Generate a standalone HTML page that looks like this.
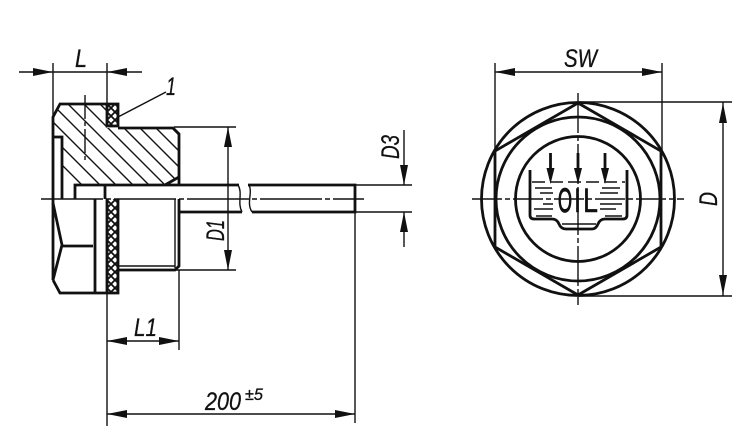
<!DOCTYPE html>
<html>
<head>
<meta charset="utf-8">
<style>
html,body{margin:0;padding:0;background:#fff;width:750px;height:439px;overflow:hidden}
svg{display:block}
text{font-family:"Liberation Sans",sans-serif;font-style:italic;fill:#111;stroke:#111;stroke-width:.3}
</style>
</head>
<body>
<svg width="750" height="439" viewBox="0 0 750 439" xmlns="http://www.w3.org/2000/svg">
<defs>
<clipPath id="hc"><polygon points="53,117 60,104 107,104 107,128 173,128 179,134 179,177 165,185 75,185 75,199 62,199 62,137 53,137"/></clipPath>
<pattern id="xh" width="8" height="8" patternUnits="userSpaceOnUse" x="107" y="104">
<path d="M-1,-1 L9,9 M-1,9 L9,-1" stroke="#111" stroke-width="1.8" fill="none"/>
</pattern>
</defs>

<!-- hatch -->
<g clip-path="url(#hc)" stroke="#111" stroke-width="1.4">
<path d="M33,136 L133,236 M33,118 L133,218 M33,102 L133,202 M33,85 L143,195 M33,69 L153,189 M33,53 L173,193 M33,37 L183,187 M33,21 L193,181 M33,5 L203,175 M33,-11 L213,169 M33,-27 L223,163"/>
</g>
<rect x="107" y="104" width="11" height="22" fill="url(#xh)"/>
<rect x="107" y="199" width="11" height="94" fill="url(#xh)"/>

<!-- left view thick outlines -->
<g fill="none" stroke="#111" stroke-width="2.8">
<path d="M53,280 L53,117 L60,104 L118,104 L118,126 L107,126 L107,104"/>
<path d="M118,128 L173,128 L179,134 L179,185"/>
<path d="M179,177 L165,185"/>
<path d="M53,137 L62,137 L62,199"/>
<path d="M75,199 L75,185 L239,185"/>
<path d="M248,185 L355,185 L355,212 L252,212"/>
<path d="M179,212 L242,212"/>
<path d="M105,185 L105,199"/>
<path d="M53,280 L60,293 L118,293 L118,199 M107,199 L107,293"/>
<path d="M53,203 L62,245 L53,280"/>
<path d="M62,246 L93,246"/>
<path d="M95,199 L95,293"/>
<path d="M118,270 L175,270 L179,266 L179,212"/>
<path d="M179,199 L179,212"/>
</g>
<g fill="none" stroke="#111" stroke-width="1.4">
<path d="M238,185 C243,193 237,203 242,212"/>
<path d="M249,185 C253,193 246,203 252,212"/>
<path d="M118,266 L175,266 M175,199 L175,268"/>
</g>

<!-- left view thin lines -->
<g fill="none" stroke="#111" stroke-width="1.4">
<path d="M19,72 L142,72"/>
<path d="M53,63 L53,117"/>
<path d="M107,63 L107,104"/>
<path d="M118,117 L166,92"/>
<path d="M174,127 L236,127 M175,270 L236,270"/>
<path d="M228,127 L228,270"/>
<path d="M355,212 L355,423"/>
<path d="M355,185 L412,185 M355,212 L412,212"/>
<path d="M404,130 L404,185 M404,212 L404,247"/>
<path d="M107,293 L107,426"/>
<path d="M179,270 L179,350"/>
<path d="M107,341 L179,341"/>
<path d="M107,414 L355,414"/>
<path d="M41,199 L364,199" stroke-dasharray="62 3 5 3"/>
<path d="M85,95 L85,162" stroke-dasharray="24 3 4 3"/>
</g>

<!-- right view -->
<g fill="none" stroke="#111" stroke-width="2.8">
<circle cx="578" cy="199" r="96.5"/>
<circle cx="578" cy="199" r="82"/>
<circle cx="578" cy="199" r="62.5"/>
<polygon points="578,103 661,151 661,247 578,295 495,247 495,151"/>
<path d="M530,170 L530,215 Q530,219 534,219 L552,219 Q557,219 559,224 Q561,229 566,229 L592,229 Q596,229 598,224 Q600,219 605,219 L623,219 Q627,219 627,215 L627,170"/>
<path d="M550.5,153 L550.5,172 M578,153 L578,172 M605,153 L605,172"/>
</g>
<g fill="none" stroke="#111" stroke-width="1.4">
<path d="M472,199 L684,199" stroke-dasharray="30 3 5 3"/>
<path d="M578,93 L578,305" stroke-dasharray="40 3 5 3"/>
<path d="M495,63 L495,151 M662,63 L662,151"/>
<path d="M495,72 L662,72"/>
<path d="M578,102 L732,102 M578,296 L732,296"/>
<path d="M723,102 L723,296"/>
<path d="M532,182 L625,182" stroke-dasharray="13 5"/>
<path d="M535,188 L552,188 M602,188 L620,188 M540,193 L553,193 M600,193 L618,193 M543,204 L553,204 M600,204 L622,204 M534,209 L553,209 M600,209 L616,209 M536,216 L552,216 M605,216 L622,216 M562,224 L596,224"/>
</g>

<!-- arrowheads -->
<g fill="#111" stroke="none">
<polygon points="33,68 53,72 33,76"/>
<polygon points="127,68 107,72 127,76"/>
<polygon points="515,68 495,72 515,76"/>
<polygon points="642,68 662,72 642,76"/>
<polygon points="719,123 723,103 727,123"/>
<polygon points="719,275 723,295 727,275"/>
<polygon points="224,147 228,127 232,147"/>
<polygon points="224,250 228,270 232,250"/>
<polygon points="400,165 404,185 408,165"/>
<polygon points="400,232 404,212 408,232"/>
<polygon points="127,337 107,341 127,345"/>
<polygon points="159,337 179,341 159,345"/>
<polygon points="127,410 107,414 127,418"/>
<polygon points="335,410 355,414 335,418"/>
<polygon points="546.5,168 550.5,184 554.5,168"/>
<polygon points="574,168 578,184 582,168"/>
<polygon points="601,168 605,184 609,168"/>
</g>

<!-- OIL -->
<g style="font-style:normal">
<text x="558" y="212" font-size="34" textLength="14" lengthAdjust="spacingAndGlyphs" style="font-style:normal;stroke-width:1.2">O</text>
<text x="574" y="212" font-size="34" textLength="7" lengthAdjust="spacingAndGlyphs" style="font-style:normal;stroke-width:.4">I</text>
<text x="583" y="212" font-size="34" textLength="15" lengthAdjust="spacingAndGlyphs" style="font-style:normal;stroke-width:.4">L</text>
</g>

<!-- labels -->
<text x="75" y="67" font-size="25" textLength="12" lengthAdjust="spacingAndGlyphs">L</text>
<text x="166" y="95" font-size="25" textLength="10" lengthAdjust="spacingAndGlyphs">1</text>
<text x="564" y="67" font-size="25" textLength="33" lengthAdjust="spacingAndGlyphs">SW</text>
<text x="134" y="336" font-size="25" textLength="23" lengthAdjust="spacingAndGlyphs">L1</text>
<text x="205" y="410" font-size="25" textLength="36" lengthAdjust="spacingAndGlyphs">200</text>
<text x="245" y="400" font-size="17" textLength="18" lengthAdjust="spacingAndGlyphs">±5</text>
<text transform="translate(224,241) rotate(-90)" font-size="25" textLength="21" lengthAdjust="spacingAndGlyphs">D1</text>
<text transform="translate(399,159) rotate(-90)" font-size="25" textLength="24" lengthAdjust="spacingAndGlyphs">D3</text>
<text transform="translate(717,206) rotate(-90)" font-size="25" textLength="14" lengthAdjust="spacingAndGlyphs">D</text>
</svg>
</body>
</html>
